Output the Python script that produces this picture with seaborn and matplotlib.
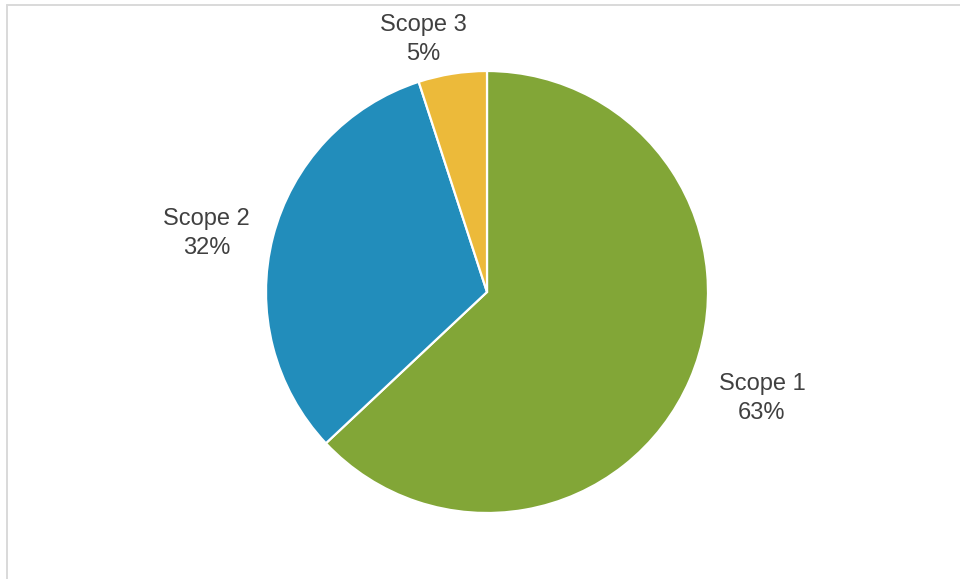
import numpy as np
import matplotlib
matplotlib.use("Agg")
import matplotlib.pyplot as plt
from matplotlib.lines import Line2D
import seaborn as sns

sns.set_theme(style="white")
plt.rcParams["font.family"] = ["Liberation Sans", "DejaVu Sans"]

# Emission shares by scope
categories = ["Scope 1", "Scope 2", "Scope 3"]
shares = [63, 32, 5]
colors = ["#82A637", "#228DBB", "#ECBA3A"]

# label placement around the pie: (distance in radii, angle in degrees)
label_polar = [(1.33, -20.7), (1.30, 167.7), (1.19, 104.0)]

W, H, DPI = 960, 579, 100
cx, cy, R = 487, 292, 221  # pie centre and radius in pixels (from top-left)

fig = plt.figure(figsize=(W / DPI, H / DPI), dpi=DPI)
fig.patch.set_facecolor("white")
ax = fig.add_axes([0, 0, 1, 1])
ax.axis("off")

wedges, _ = ax.pie(
    shares,
    colors=colors,
    startangle=90,
    counterclock=False,
    radius=1.0,
    wedgeprops=dict(edgecolor="white", linewidth=1.6),
)
ax.set_xlim(-cx / R, (W - cx) / R)
ax.set_ylim(-(H - cy) / R, cy / R)
ax.set_aspect("auto")

text_drop = 2.5 / R  # small downward nudge of the label block
for name, val, (dist, ang) in zip(categories, shares, label_polar):
    a = np.deg2rad(ang)
    ax.text(dist * np.cos(a), dist * np.sin(a) - text_drop, f"{name}\n{val}%",
            ha="center", va="center", fontsize=17, color="#404040",
            linespacing=1.38)

# chart frame (only top and left edges fall inside the image)
frame_kw = dict(color="#D9D9D9", linewidth=1.4, transform=None)
fig.add_artist(Line2D([6.5, 6.5], [0, H - 4.5], **frame_kw))
fig.add_artist(Line2D([6.5, W], [H - 4.5, H - 4.5], **frame_kw))

fig.savefig("out.png", dpi=DPI, facecolor="white")
